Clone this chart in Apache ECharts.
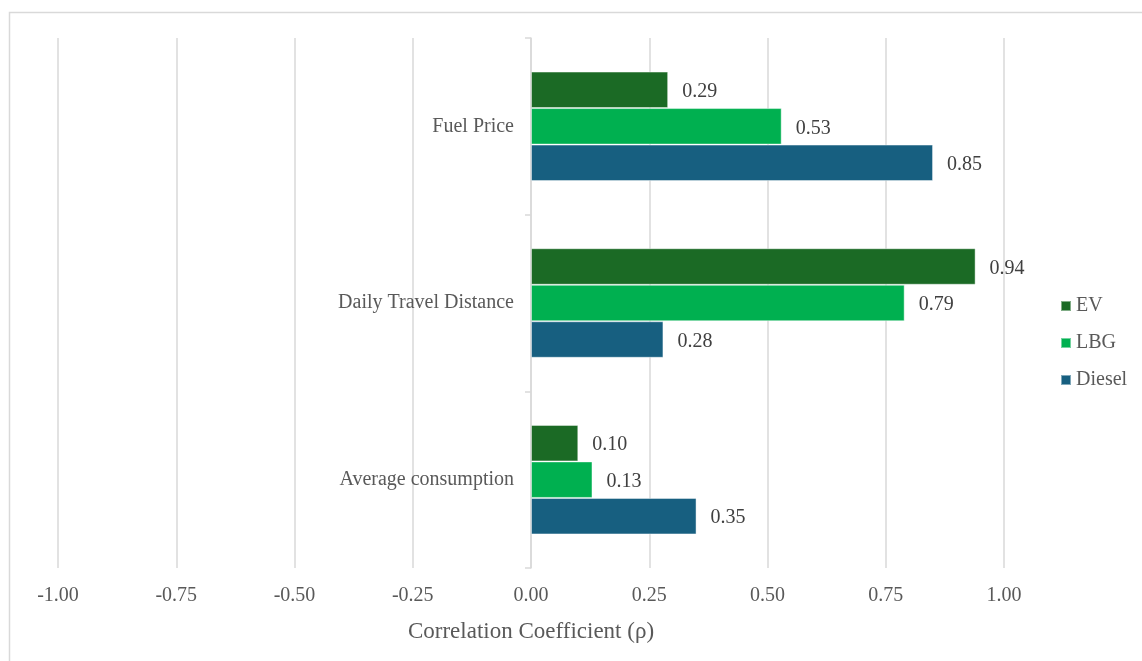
<!DOCTYPE html>
<html>
<head>
<meta charset="utf-8">
<title>Correlation Coefficient by Factor</title>
<script src="https://cdn.jsdelivr.net/npm/echarts@6/dist/echarts.min.js"></script>
<style>
  html, body { margin: 0; padding: 0; background: #ffffff; }
  #chart { width: 1142px; height: 661px; }
</style>
</head>
<body>
<div id="chart"></div>
<script>
// Factors, listed bottom to top along the category axis
const categories = ['Average consumption', 'Daily Travel Distance', 'Fuel Price'];

// Correlation coefficients per vehicle type
const evValues = [0.10, 0.94, 0.29];
const lbgValues = [0.13, 0.79, 0.53];
const dieselValues = [0.35, 0.28, 0.85];

const seriesNames = ['EV', 'LBG', 'Diesel'];
const seriesColors = ['#1b6a25', '#00b050', '#175f80'];

const xTicks = { min: -1, max: 1, interval: 0.25 };

const FONT = '"Liberation Serif", "Times New Roman", serif';
const GRID = { left: 58, right: 138, top: 38, bottom: 93 };
const chart = echarts.init(document.getElementById('chart'), null, { renderer: 'canvas' });

// Distance in pixels from the grid's left edge to x = 0, where the category axis sits
const plotWidth = 1142 - GRID.left - GRID.right;
const zeroOffset = plotWidth * (0 - xTicks.min) / (xTicks.max - xTicks.min);

function barSeries(name, data, color) {
  return {
    name: name,
    type: 'bar',
    data: data,
    barGap: '0%',
    barCategoryGap: '38%',
    itemStyle: { color: color, borderColor: 'rgba(255,255,255,0.45)', borderWidth: 1 },
    label: {
      show: true,
      position: 'right',
      distance: 14,
      offset: [0, 2],
      formatter: p => p.value.toFixed(2),
      fontFamily: FONT,
      fontSize: 20,
      color: '#404040'
    },
    emphasis: { disabled: true },
    animation: false
  };
}

// EV first so it sits on top within each category
const series = [
  barSeries('EV', evValues, seriesColors[0]),
  barSeries('LBG', lbgValues, seriesColors[1]),
  barSeries('Diesel', dieselValues, seriesColors[2])
];

chart.setOption({
  animation: false,
  backgroundColor: '#ffffff',
  graphic: [{
    type: 'rect',
    shape: { x: 9.5, y: 12.5, width: 1200, height: 700 },
    style: { fill: 'none', stroke: '#d9d9d9', lineWidth: 1.5 },
    silent: true
  }],
  grid: {
    left: GRID.left, right: GRID.right, top: GRID.top, bottom: GRID.bottom,
    containLabel: false,
    outerBoundsMode: 'none'
  },
  legend: {
    orient: 'vertical',
    left: 1055,
    top: 291,
    data: seriesNames,
    itemWidth: 10,
    itemHeight: 10,
    itemGap: 17,
    icon: 'rect',
    textStyle: { fontFamily: FONT, fontSize: 20, color: '#595959' },
    selectedMode: false
  },
  xAxis: {
    type: 'value',
    min: xTicks.min,
    max: xTicks.max,
    interval: xTicks.interval,
    name: 'Correlation Coefficient (\u03c1)',
    nameLocation: 'middle',
    nameGap: 52,
    nameTextStyle: { fontFamily: FONT, fontSize: 23, color: '#595959' },
    axisLine: { show: false },
    axisTick: { show: false },
    axisLabel: {
      formatter: v => v.toFixed(2),
      fontFamily: FONT,
      fontSize: 20,
      color: '#595959',
      margin: 18
    },
    splitLine: { show: true, lineStyle: { color: '#d9d9d9', width: 1.5 } }
  },
  yAxis: {
    type: 'category',
    data: categories,
    position: 'left',
    offset: -zeroOffset,
    axisLine: { show: true, onZero: false, lineStyle: { color: '#d9d9d9', width: 1.5 } },
    axisTick: { show: true, length: 6, inside: false, lineStyle: { color: '#d9d9d9', width: 1.5 } },
    axisLabel: {
      fontFamily: FONT,
      fontSize: 20,
      color: '#595959',
      margin: 17,
      padding: [4, 0, 0, 0]
    },
    splitLine: { show: false }
  },
  series: series
});
</script>
</body>
</html>
